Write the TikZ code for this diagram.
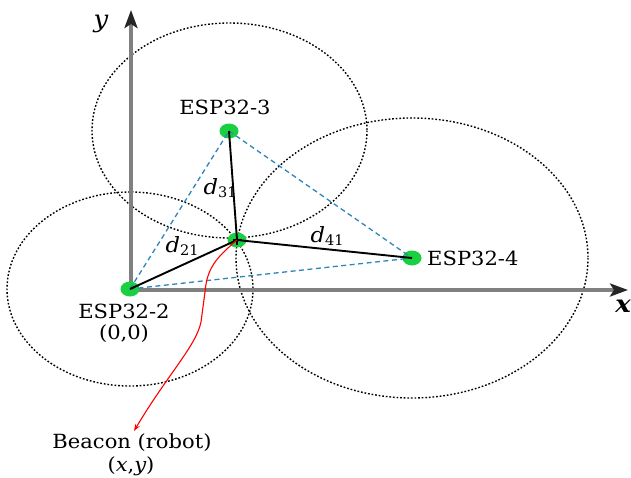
\documentclass[tikz,border=0pt]{standalone}
\usepackage{fontspec}
\setmainfont{DejaVu Serif}
\usepackage{graphicx}
\usetikzlibrary{arrows.meta,shapes.geometric}
\newcommand{\wtxt}[1]{\scalebox{1.08}[1]{#1}}
\newcommand{\dsub}[1]{\wtxt{\fontsize{21}{24}\selectfont\itshape d}\raisebox{-0.35ex}{\fontsize{14.5}{16}\selectfont #1}}
\definecolor{espgreen}{HTML}{1ACF40}
\definecolor{guideblue}{HTML}{2E86B8}
\begin{document}
\begin{tikzpicture}[x=1pt,y=-1pt,font=\fontsize{19.5}{22}\selectfont,
  axisline/.style={draw=black!50, line width=3.4pt},
  axtip/.style={-{Stealth[length=18pt,width=13pt,inset=4pt,color=black!85]}},
  rangering/.style={draw=black, line width=1.4pt, dash pattern=on 1.7pt off 1.9pt},
  esp/.style={ellipse, fill=espgreen, minimum width=19pt, minimum height=15pt, inner sep=0pt},
  link/.style={draw=black, line width=1.9pt},
  guide/.style={draw=guideblue, line width=1.3pt, dash pattern=on 5pt off 3.5pt},
  lbl/.style={inner sep=0pt}
]
\useasboundingbox (0,0) rectangle (631,477);

% range ellipses
\draw[rangering] (130,289) ellipse [x radius=123, y radius=97];
\draw[rangering] (229.5,130.5) ellipse [x radius=137.5, y radius=107.5];
\draw[rangering] (412,258) ellipse [x radius=176, y radius=140];

% axes
\coordinate (O) at (131,290);
\coordinate (xe) at (628,290);
\coordinate (ye) at (131,10);
\draw[axisline, axtip] (O) -- (xe);
\draw[axisline, axtip] (O) -- (ye);
\node[lbl] (ylab) at (101,24) {\wtxt{\fontsize{24}{26}\selectfont\itshape y}};
\node[lbl] (xlab) at (623,306) {\wtxt{\fontsize{24}{26}\selectfont\bfseries\itshape x}};

% nodes
\node[esp] (e2) at (130,289) {};
\node[esp] (e3) at (229,131) {};
\node[esp] (e4) at (412,258) {};
\node[esp] (b) at (237,240) {};

% guide lines
\draw[guide] (e2.center) -- (e3.center);
\draw[guide] (e3.center) -- (e4.center);
\draw[guide] (e2.center) -- (e4.center);

% distance lines
\draw[link] (b.center) -- (e2.center);
\draw[link] (b.center) -- (e3.center);
\draw[link] (b.center) -- (e4.center);
\draw[line width=1.2pt] (b.center) ++(-4.5,0) -- ++(9,0);
\draw[line width=1.2pt] (b.center) ++(0,-4.5) -- ++(0,9);

% red pointer
\coordinate (tip) at (134,431);
\draw[red, line width=1.1pt, -{Stealth[length=7pt,width=5pt]}]
  (b.center) .. controls (216,258) and (207,268) .. (205,292)
  -- (201,322) .. controls (196,346) and (168,374) .. (tip);

% labels
\node[lbl] (l3) at (225,107) {\wtxt{ESP32-3}};
\node[lbl] (l2) at (124,311) {\wtxt{ESP32-2}};
\node[lbl] (l2b) at (124,334) {\wtxt{(0,0)}};
\node[lbl, anchor=west] (l4) at (427,258) {\wtxt{ESP32-4}};
\node[lbl] (lb) at (132,443) {\wtxt{Beacon (robot)}};
\node[lbl] (lb2) at (131,466) {\wtxt{({\itshape x},{\itshape y})}};
\node[lbl] (d31) at (220,188) {\dsub{31}};
\node[lbl] (d21) at (182,246) {\dsub{21}};
\node[lbl] (d41) at (327,236) {\dsub{41}};
\end{tikzpicture}
\end{document}
